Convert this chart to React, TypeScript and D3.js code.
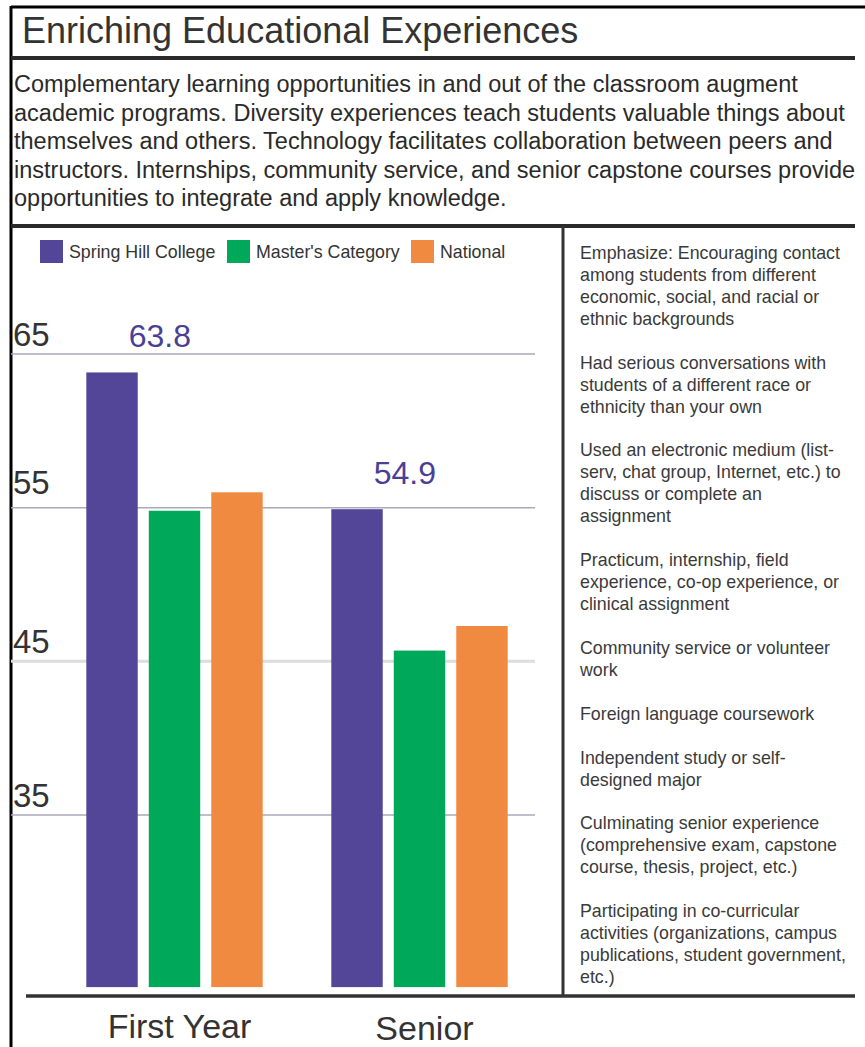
import React from "react";
import * as d3 from "d3";

const TITLE = "Enriching Educational Experiences";
const DESCRIPTION = [
  "Complementary learning opportunities in and out of the classroom augment",
  "academic programs. Diversity experiences teach students valuable things about",
  "themselves and others. Technology facilitates collaboration between peers and",
  "instructors. Internships, community service, and senior capstone courses provide",
  "opportunities to integrate and apply knowledge.",
];
const CATEGORIES = ["First Year", "Senior"];
const SERIES = ["Spring Hill College", "Master's Category", "National"];
const COLORS = ["#534698", "#00a85a", "#f08a40"];
const SHC_VALUES = [63.8, 54.9];
const MASTERS_VALUES = [54.8, 45.7];
const NATIONAL_VALUES = [56.0, 47.3];
const Y_TICKS = [65, 55, 45, 35];
const BASE_VALUE = 23.8;
const ITEMS = [
  ["Emphasize: Encouraging contact", "among students from different", "economic, social, and racial or", "ethnic backgrounds"],
  ["Had serious conversations with", "students of a different race or", "ethnicity than your own"],
  ["Used an electronic medium (list-", "serv, chat group, Internet, etc.) to", "discuss or complete an", "assignment"],
  ["Practicum, internship, field", "experience, co-op experience, or", "clinical assignment"],
  ["Community service or volunteer", "work"],
  ["Foreign language coursework"],
  ["Independent study or self-", "designed major"],
  ["Culminating senior experience", "(comprehensive exam, capstone", "course, thesis, project, etc.)"],
  ["Participating in co-curricular", "activities (organizations, campus", "publications, student government,", "etc.)"],
];

const FONT = "'Liberation Sans', Arial, Helvetica, sans-serif";

export default function App() {
  const values = [SHC_VALUES, MASTERS_VALUES, NATIONAL_VALUES];
  const y = d3.scaleLinear().domain([35, 65]).range([815, 354]);
  const x0 = d3.scaleBand().domain(CATEGORIES).range([52, 542]).paddingInner(0.28).paddingOuter(0.14);
  const x1 = d3.scaleBand().domain(SERIES).range([0, x0.bandwidth()]).paddingInner(0.177).paddingOuter(0);

  const panelLines: { text: string; row: number }[] = [];
  let row = 0;
  ITEMS.forEach((item) => {
    item.forEach((t) => {
      panelLines.push({ text: t, row });
      row++;
    });
    row++;
  });

  const legendX = [40, 227, 411];

  return (
    <svg width={865} height={1047} style={{ position: "absolute", left: 0, top: 0, background: "#fff" }} fontFamily={FONT}>
      <rect x={0} y={0} width={865} height={1047} fill="#fff" />
      <line x1={11} x2={865} y1={7} y2={7} stroke="#000" strokeWidth={3} />
      <line x1={11} x2={11} y1={6} y2={1047} stroke="#000" strokeWidth={3} />
      <text x={22} y={43} fontSize={36} fill="#333">{TITLE}</text>
      <line x1={11} x2={855} y1={58} y2={58} stroke="#2a2a2a" strokeWidth={4} />
      {DESCRIPTION.map((t, i) => (
        <text key={i} x={14} y={92 + i * 28.5} fontSize={23.5} fill="#2a2a2a">{t}</text>
      ))}
      <line x1={11} x2={855} y1={226} y2={226} stroke="#2a2a2a" strokeWidth={4} />
      <line x1={563} x2={563} y1={226} y2={996} stroke="#333" strokeWidth={3} />

      {SERIES.map((s, i) => (
        <g key={s}>
          <rect x={legendX[i]} y={240} width={23} height={23} fill={COLORS[i]} />
          <text x={legendX[i] + 29} y={258} fontSize={17.8} fill="#333">{s}</text>
        </g>
      ))}

      {Y_TICKS.map((t) => (
        <g key={t}>
          <line x1={11} x2={535} y1={y(t)} y2={y(t)} stroke={t === 45 ? "#dddddd" : "#a9a9bb"} strokeWidth={t === 45 ? 3 : 1.5} />
          <text x={13} y={y(t) - (t === 55 ? 14 : 8)} fontSize={33} fill="#333">{t}</text>
        </g>
      ))}

      {CATEGORIES.map((c, ci) => (
        <g key={c} transform={`translate(${x0(c)},0)`}>
          {SERIES.map((s, si) => (
            <rect key={s} x={x1(s)} y={y(values[si][ci])} width={x1.bandwidth()} height={y(BASE_VALUE) - y(values[si][ci])} fill={COLORS[si]} />
          ))}
          <text x={(x1(SERIES[0]) as number) + x1.bandwidth() * 1.43} y={y(values[0][ci]) - 25} fontSize={32} fill="#4a3f95" textAnchor="middle">
            {values[0][ci].toFixed(1)}
          </text>
          <text x={x0.bandwidth() / 2 + 5} y={1038 + ci * 2} fontSize={34} fill="#333" textAnchor="middle">{c}</text>
        </g>
      ))}

      <line x1={26} x2={855} y1={996} y2={996} stroke="#333" strokeWidth={3.5} />

      {panelLines.map((l, i) => (
        <text key={i} x={580} y={259 + l.row * 21.94} fontSize={17.8} fill="#3a3a3a">{l.text}</text>
      ))}
    </svg>
  );
}
